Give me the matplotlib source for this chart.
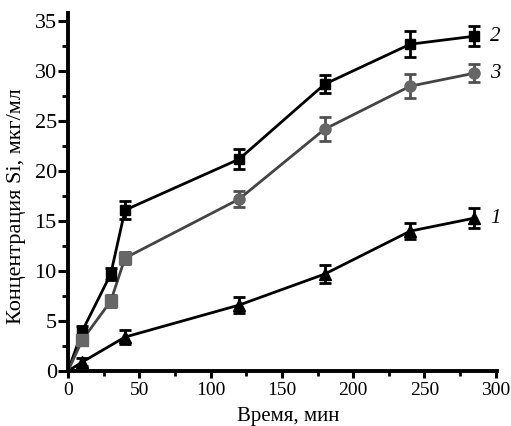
import numpy as np
import matplotlib.pyplot as plt
from matplotlib.ticker import MultipleLocator

plt.rcParams.update({
    'font.family': ['Liberation Serif', 'DejaVu Serif'],
    'font.size': 14,
})

# time points (min)
t = [0, 10, 30, 40, 120, 180, 240, 285]

# curve 1 (triangles)
c1 = [0, 0.9, None, 3.4, 6.6, 9.7, 14.0, 15.3]
e1 = [0, 0.4, None, 0.7, 0.8, 0.9, 0.8, 1.0]
# curve 2 (black squares)
c2 = [0, 4.0, 9.7, 16.1, 21.2, 28.7, 32.7, 33.5]
e2 = [0, 0.5, 0.6, 0.9, 1.0, 0.9, 1.3, 1.0]
# curve 3 (grey)
c3 = [0, 3.1, 7.0, 11.3, 17.2, 24.2, 28.5, 29.8]
e3 = [0, 0.4, 0.6, 0.6, 0.8, 1.2, 1.2, 0.9]
m3 = ['', 's', 's', 's', 'o', 'o', 'o', 'o']

curve_labels = ['1', '2', '3']

fig = plt.figure(figsize=(5.11, 4.26), dpi=100)
ax = fig.add_axes([0.133, 0.129, 0.84, 0.84])


def draw(x, y, err, color, lcolor):
    pts = [(xi, yi, ei) for xi, yi, ei in zip(x, y, err) if yi is not None]
    xs = np.array([p[0] for p in pts])
    ys = np.array([p[1] for p in pts])
    es = np.array([p[2] for p in pts])
    ax.plot(xs, ys, '-', color=lcolor, lw=2, zorder=2)
    ax.errorbar(xs[1:], ys[1:], yerr=es[1:], fmt='none', ecolor=color,
                elinewidth=2, capsize=4, capthick=2, zorder=3)
    return xs, ys


xs, ys = draw(t, c1, e1, 'black', 'black')
ax.plot(xs[1:], ys[1:], '^', color='black', ms=8, zorder=4)
xs, ys = draw(t, c2, e2, 'black', 'black')
ax.plot(xs[1:], ys[1:], 's', color='black', ms=7, zorder=4)
xs, ys = draw(t, c3, e3, '#505050', '#444444')
for xi, yi, mk in zip(t, c3, m3):
    if mk:
        ax.plot(xi, yi, mk, color='#666666', ms=8, zorder=4)

# curve labels at right end
for lab, y in zip(curve_labels, [c1[-1], c2[-1], c3[-1]]):
    ax.text(t[-1] + 11, y, lab, style='italic', fontsize=15,
            va='center', ha='left')

ax.set_xlim(0, 301)
ax.set_ylim(0, 35.8)
ax.xaxis.set_major_locator(MultipleLocator(50))
ax.xaxis.set_minor_locator(MultipleLocator(25))
ax.yaxis.set_major_locator(MultipleLocator(5))
ax.yaxis.set_minor_locator(MultipleLocator(2.5))
ax.tick_params(which='major', direction='out', width=2.2)
ax.tick_params(which='minor', direction='out', width=2)
ax.tick_params(axis='x', which='major', length=5, pad=3, labelsize=14)
ax.tick_params(axis='x', which='minor', length=3.5)
ax.tick_params(axis='y', which='major', length=7, pad=1, labelsize=16)
ax.tick_params(axis='y', which='minor', length=4)
for s in ['top', 'right']:
    ax.spines[s].set_visible(False)
for s in ['left', 'bottom']:
    ax.spines[s].set_linewidth(2.8)

ax.set_xlabel('Время, мин', fontsize=15)
ax.set_ylabel('Концентрация Si, мкг/мл', fontsize=16)
ax.xaxis.set_label_coords(0.513, -0.1)
ax.yaxis.set_label_coords(-0.097, 0.46)

fig.savefig('out.png', dpi=100)
